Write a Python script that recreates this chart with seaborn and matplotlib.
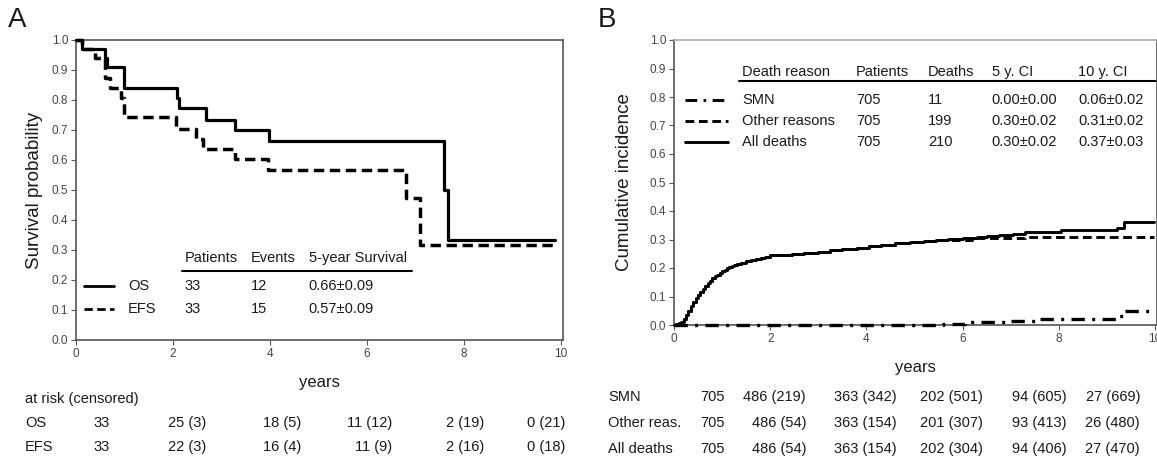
import numpy as np
import pandas as pd
import seaborn as sns
import matplotlib.pyplot as plt

# ---- panel A: Kaplan-Meier curves
os_t = [0, 0.12, 0.60, 0.65, 1.00, 2.09, 2.13, 2.68, 3.28, 3.99, 7.60, 7.68, 9.88]
os_s = [1.0, 0.970, 0.939, 0.909, 0.839, 0.806, 0.774, 0.735, 0.700, 0.665, 0.500, 0.333, 0.333]
efs_t = [0, 0.12, 0.40, 0.59, 0.70, 0.93, 1.00, 2.07, 2.47, 2.63, 3.28, 3.97, 6.81, 7.10, 9.88]
efs_s = [1.0, 0.970, 0.939, 0.875, 0.839, 0.808, 0.744, 0.705, 0.670, 0.637, 0.602, 0.567, 0.472, 0.317, 0.317]

a_names = ['OS', 'EFS']
a_patients = ['33', '33']
a_events = ['12', '15']
a_surv5 = ['0.66\u00b10.09', '0.57\u00b10.09']
a_risk = {'OS': ['33', '25 (3)', '18 (5)', '11 (12)', '2 (19)', '0 (21)'],
          'EFS': ['33', '22 (3)', '16 (4)', '11 (9)', '2 (16)', '0 (18)']}

# ---- panel B: cumulative incidence
early_t = [0, 0.05, 0.1, 0.15, 0.2, 0.25, 0.3, 0.35, 0.4, 0.45, 0.5, 0.55, 0.6, 0.65, 0.7, 0.75,
           0.8, 0.85, 0.9, 0.95, 1.0, 1.05, 1.1, 1.15, 1.2, 1.25, 1.3, 1.4, 1.5, 1.6, 1.7, 1.8, 1.9]
early_c = [0, 0.002, 0.006, 0.012, 0.02, 0.035, 0.05, 0.065, 0.082, 0.096, 0.106, 0.117, 0.127,
           0.138, 0.148, 0.156, 0.164, 0.171, 0.177, 0.184, 0.189, 0.194, 0.199, 0.204, 0.208,
           0.212, 0.215, 0.218, 0.223, 0.228, 0.232, 0.236, 0.240]
all_t = early_t + [2.0, 2.2, 2.45, 2.7, 3.0, 3.25, 3.5, 3.8, 4.05, 4.3, 4.6, 4.9, 5.2, 5.45, 5.7,
                   6.0, 6.3, 6.5, 6.75, 7.05, 7.3, 8.05, 9.2, 9.35, 9.98]
all_c = early_c + [0.244, 0.246, 0.249, 0.252, 0.256, 0.262, 0.266, 0.271, 0.277, 0.282, 0.287,
                   0.29, 0.294, 0.298, 0.302, 0.305, 0.308, 0.312, 0.315, 0.318, 0.325, 0.332,
                   0.34, 0.36, 0.36]
oth_t = early_t + [2.0, 2.2, 2.45, 2.7, 3.0, 3.25, 3.5, 3.8, 4.05, 4.3, 4.6, 4.9, 5.2, 5.45, 5.7,
                   6.2, 7.3, 9.98]
oth_c = early_c + [0.244, 0.246, 0.249, 0.252, 0.256, 0.262, 0.266, 0.271, 0.277, 0.282, 0.287,
                   0.29, 0.294, 0.298, 0.30, 0.305, 0.31, 0.31]
smn_t = [0, 5.6, 6.05, 6.95, 7.5, 8.0, 9.25, 9.35, 9.98]
smn_c = [0, 0.005, 0.01, 0.015, 0.02, 0.022, 0.03, 0.05, 0.05]

b_names = ['SMN', 'Other reasons', 'All deaths']
b_patients = ['705', '705', '705']
b_deaths = ['11', '199', '210']
b_ci5 = ['0.00\u00b10.00', '0.30\u00b10.02', '0.30\u00b10.02']
b_ci10 = ['0.06\u00b10.02', '0.31\u00b10.02', '0.37\u00b10.03']
b_risk = {'SMN': ['705', '486 (219)', '363 (342)', '202 (501)', '94 (605)', '27 (669)'],
          'Other reas.': ['705', '486 (54)', '363 (154)', '201 (307)', '93 (413)', '26 (480)'],
          'All deaths': ['705', '486 (54)', '363 (154)', '202 (304)', '94 (406)', '27 (470)']}

sns.set_style('white')
plt.rcParams['font.family'] = ['Liberation Sans', 'DejaVu Sans']

W, H = 1157, 459
fig = plt.figure(figsize=(W / 100, H / 100), dpi=100)


def ftext(px, py, s, **kw):
    kw.setdefault('color', '#1a1a1a')
    kw.setdefault('fontsize', 10.5)
    fig.text(px / W, 1 - py / H, s, va='center', **kw)


def style_axes(ax):
    for sp in ax.spines.values():
        sp.set_color('#555555')
        sp.set_linewidth(1.2)
    ax.tick_params(axis='both', direction='out', length=3.5, width=0.8, color='#555555',
                   labelsize=8.5, labelcolor='#444444', left=True, bottom=True, pad=2)


solid = '-'
dashed = (0, (3.0, 1.6))
dashdot = (0, (4.0, 2.2, 0.9, 2.2))

# ================= Panel A
axA = fig.add_axes([76 / W, 1 - 340 / H, 487 / W, 300 / H])
dfA = pd.DataFrame({'t': os_t, 's': os_s})
dfE = pd.DataFrame({'t': efs_t, 's': efs_s})
sns.lineplot(data=dfA, x='t', y='s', ax=axA, color='black', lw=2.3, estimator=None, sort=False,
             drawstyle='steps-post', linestyle=solid, clip_on=False, zorder=3)
sns.lineplot(data=dfE, x='t', y='s', ax=axA, color='black', lw=2.5, estimator=None, sort=False,
             drawstyle='steps-post', linestyle=dashed, clip_on=False, zorder=3)
axA.set_xlim(0, 10.05)
axA.set_ylim(0, 1.0)
axA.set_xticks([0, 2, 4, 6, 8, 10])
axA.set_yticks(np.arange(0, 1.01, 0.1))
axA.set_yticklabels([f'{v:.1f}' for v in np.arange(0, 1.01, 0.1)])
style_axes(axA)
axA.set_xlabel('years', fontsize=12, color='#1a1a1a')
axA.set_ylabel('Survival probability', fontsize=13.5, color='#1a1a1a')
axA.xaxis.set_label_coords(0.5, -0.115)
axA.yaxis.set_label_coords(-0.068, 0.5)

# legend table A
tr = axA.transAxes
axA.text(0.223, 0.272, 'Patients', transform=tr, fontsize=10.5, va='center', color='#1a1a1a')
axA.text(0.359, 0.272, 'Events', transform=tr, fontsize=10.5, va='center', color='#1a1a1a')
axA.text(0.478, 0.272, '5-year Survival', transform=tr, fontsize=10.5, va='center', color='#1a1a1a')
axA.plot([0.217, 0.69], [0.231, 0.231], transform=tr, color='black', lw=1.5)
for i, (nm, ls) in enumerate(zip(a_names, [solid, dashed])):
    y = [0.18, 0.102][i]
    axA.plot([0.016, 0.078], [y, y], transform=tr, color='black', lw=2.0, linestyle=ls)
    axA.text(0.107, y, nm, transform=tr, fontsize=10.5, va='center', color='#1a1a1a')
    axA.text(0.223, y, a_patients[i], transform=tr, fontsize=10.5, va='center', color='#1a1a1a')
    axA.text(0.359, y, a_events[i], transform=tr, fontsize=10.5, va='center', color='#1a1a1a')
    axA.text(0.478, y, a_surv5[i], transform=tr, fontsize=10.5, va='center', color='#1a1a1a')

fig.text(8 / W, 1 - 20 / H, 'A', fontsize=20, va='center', color='#1a1a1a')

# at-risk table A
ftext(25, 399, 'at risk (censored)')
a_right = [110, 206, 301, 392, 484, 565]
for name, py in zip(a_names, [423, 447]):
    ftext(25, py, name)
    for s, px in zip(a_risk[name], a_right):
        ftext(px, py, s, ha='right')

# ================= Panel B
axB = fig.add_axes([674 / W, 1 - 325 / H, 483 / W, 285 / H])
dfAll = pd.DataFrame({'t': all_t, 'c': all_c})
dfOth = pd.DataFrame({'t': oth_t, 'c': oth_c})
dfSmn = pd.DataFrame({'t': smn_t, 'c': smn_c})
sns.lineplot(data=dfSmn, x='t', y='c', ax=axB, color='black', lw=2.4, estimator=None, sort=False,
             drawstyle='steps-post', linestyle=dashdot, clip_on=False, zorder=3)
sns.lineplot(data=dfOth, x='t', y='c', ax=axB, color='black', lw=2.1, estimator=None, sort=False,
             drawstyle='steps-post', linestyle=dashed, zorder=3)
sns.lineplot(data=dfAll, x='t', y='c', ax=axB, color='black', lw=2.1, estimator=None, sort=False,
             drawstyle='steps-post', linestyle=solid, clip_on=False, zorder=3)
axB.set_xlim(0, 10.04)
axB.set_ylim(0, 1.0)
axB.set_xticks([0, 2, 4, 6, 8, 10])
axB.set_yticks(np.arange(0, 1.01, 0.1))
axB.set_yticklabels([f'{v:.1f}' for v in np.arange(0, 1.01, 0.1)])
style_axes(axB)
axB.spines['top'].set_color('#aaaaaa')
axB.set_xlabel('years', fontsize=12, color='#1a1a1a')
axB.set_ylabel('Cumulative incidence', fontsize=13.5, color='#1a1a1a')
axB.xaxis.set_label_coords(0.5, -0.123)
axB.yaxis.set_label_coords(-0.085, 0.5)

tr = axB.transAxes
cols = [0.141, 0.377, 0.526, 0.658, 0.837]
for x, s in zip(cols, ['Death reason', 'Patients', 'Deaths', '5 y. CI', '10 y. CI']):
    axB.text(x, 0.888, s, transform=tr, fontsize=10.5, va='center', color='#1a1a1a')
axB.plot([0.134, 1.0], [0.857, 0.857], transform=tr, color='black', lw=1.5)
for i, ls in enumerate([dashdot, dashed, solid]):
    y = [0.791, 0.716, 0.642][i]
    axB.plot([0.023, 0.112], [y, y], transform=tr, color='black', lw=2.1, linestyle=ls)
    row = [b_names[i], b_patients[i], b_deaths[i], b_ci5[i], b_ci10[i]]
    for x, s in zip(cols, row):
        axB.text(x, y, s, transform=tr, fontsize=10.5, va='center', color='#1a1a1a')

fig.text(598 / W, 1 - 20 / H, 'B', fontsize=20, va='center', color='#1a1a1a')

b_right = [725, 806, 897, 983, 1067, 1140]
for name, py in zip(b_risk.keys(), [397, 423, 449]):
    ftext(608, py, name)
    for s, px in zip(b_risk[name], b_right):
        ftext(px, py, s, ha='right')

fig.savefig('out.png', dpi=100)
